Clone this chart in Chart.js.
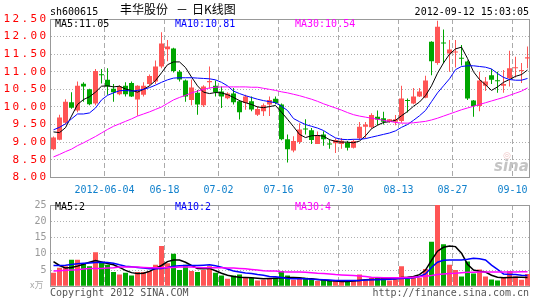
<!DOCTYPE html>
<html><head><meta charset="utf-8">
<script src="https://cdn.jsdelivr.net/npm/chart.js@4/dist/chart.umd.min.js"></script>
<style>
html,body{margin:0;padding:0;background:#fff;width:545px;height:300px;overflow:hidden}
#price{position:absolute;left:0;top:0;width:545px;height:200px}
#vol{position:absolute;left:0;top:195px;width:545px;height:105px}
</style></head><body>
<canvas id="price" width="545" height="200"></canvas>
<canvas id="vol" width="545" height="105"></canvas>
<script>
// ---- data ----
const opens  = [8.80,9.07,9.55,10.13,9.90,10.66,10.50,10.10,10.92,10.77, 10.52,10.36,10.60,10.68,10.21,10.35,10.65,10.72,11.15,11.64, 11.66,11.00,10.75,10.20,10.40,10.05,10.70,10.60,10.44,10.25, 10.38,10.16,10.11,10.16,9.78,9.88,10.07,10.23,10.07,9.08, 8.76,9.00,9.38,9.34,8.95,9.22,8.95,8.97,8.95,8.98, 8.84,9.11,9.44,9.42,9.72,9.68,9.58,9.58,9.60,10.20, 10.10,10.30,10.26,11.85,11.25,11.83,11.52,11.55,11.39,11.29, 10.18,10.03,10.60,10.90,10.76,10.60,10.82,11.10,11.02,11.38];
const highs  = [9.16,9.78,10.22,10.42,10.72,10.70,10.52,11.08,11.08,11.10, 10.65,10.62,10.70,10.72,10.62,10.70,10.92,11.32,12.12,11.90, 11.68,11.05,10.78,10.78,10.48,10.62,11.15,10.75,10.58,10.42, 10.54,10.20,10.35,10.30,10.02,10.10,10.30,10.30,10.10,9.22, 9.17,9.54,9.65,9.40,9.30,9.31,9.08,9.10,9.12,9.03, 9.08,9.57,9.57,9.82,9.90,9.86,9.66,9.77,10.60,10.24, 10.54,10.54,10.89,11.87,12.45,12.20,11.90,11.90,11.76,11.32, 10.20,11.00,10.85,11.08,11.00,11.05,11.60,11.43,11.25,11.72];
const lows   = [8.77,9.05,9.50,9.95,9.85,10.15,10.05,10.05,10.67,10.35, 10.15,10.33,10.30,10.28,9.75,10.30,10.60,10.65,11.10,11.30, 10.98,10.72,10.15,10.05,9.78,10.00,10.52,10.30,9.97,10.22, 10.07,9.64,9.92,9.88,9.74,9.74,9.74,10.08,9.05,8.42, 8.71,8.95,9.22,8.95,8.95,8.90,8.81,8.69,8.81,8.76, 8.82,9.06,9.10,9.38,9.48,9.50,9.55,9.48,9.55,9.84, 10.08,10.28,10.25,10.90,11.20,11.25,11.00,11.12,11.18,10.20, 9.72,9.88,10.45,10.65,10.40,10.40,10.58,10.84,10.68,11.10];
const closes = [9.13,9.70,10.15,9.98,10.60,10.58,10.08,11.02,10.90,10.58, 10.42,10.58,10.36,10.30,10.60,10.60,10.88,11.15,11.80,11.72, 11.02,10.78,10.30,10.55,10.07,10.58,10.74,10.42,10.30,10.38, 10.13,9.85,10.30,9.93,9.94,10.05,10.20,10.11,9.08,8.80, 9.03,9.36,9.36,9.06,9.20,9.08,8.93,9.06,9.04,8.84, 9.03,9.44,9.50,9.77,9.64,9.58,9.65,9.65,10.24,10.17, 10.30,10.44,10.75,11.30,12.28,11.80,11.63,11.57,11.37,10.24, 10.03,10.75,10.72,10.77,10.73,10.65,11.10,11.13,11.05,11.41];
const ma5  = [9.29,9.27,9.41,9.74,10.07,10.21,10.29,10.42,10.59,10.60, 10.57,10.59,10.51,10.47,10.42,10.50,10.60,10.75,10.97,11.20, 11.28,11.28,11.12,10.85,10.60,10.42,10.38,10.41,10.40,10.35, 10.27,10.18,10.12,10.07,10.00,9.98,10.01,10.04,9.85,9.65, 9.44,9.22,9.13,9.18,9.19,9.17,9.07,9.02,9.00,9.00, 8.98,9.03,9.18,9.38,9.48,9.56,9.58,9.62,9.75,9.87, 10.02,10.14,10.32,10.60,10.96,11.25,11.50,11.65,11.70,11.38, 11.00,10.78,10.63,10.47,10.57,10.70,10.78,10.87,10.92,11.05];
const ma10 = [9.35,9.42,9.52,9.66,9.80,9.80,9.83,9.97,10.20,10.33, 10.40,10.46,10.47,10.45,10.47,10.50,10.55,10.62,10.70,10.77, 10.82,10.83,10.83,10.83,10.82,10.81,10.80,10.77,10.70,10.60, 10.45,10.38,10.32,10.27,10.22,10.18,10.15,10.12,10.02,9.90, 9.67,9.58,9.50,9.45,9.40,9.33,9.22,9.12,9.08,9.07, 9.08,9.08,9.10,9.14,9.18,9.22,9.26,9.32,9.42,9.50, 9.62,9.75,9.90,10.15,10.40,10.60,10.80,11.06,11.15,11.17, 11.17,11.15,11.13,11.08,10.95,10.84,10.78,10.76,10.76,10.81];
const ma30 = [8.58,8.65,8.73,8.80,8.90,8.98,9.07,9.16,9.26,9.36, 9.45,9.52,9.59,9.66,9.74,9.80,9.86,9.93,10.00,10.10, 10.20,10.27,10.33,10.40,10.45,10.50,10.54,10.56,10.57,10.57, 10.57,10.57,10.57,10.56,10.56,10.53,10.50,10.47,10.43,10.40, 10.36,10.32,10.27,10.22,10.16,10.09,10.03,9.97,9.91,9.84, 9.78,9.74,9.71,9.68,9.65,9.62,9.59,9.56,9.54,9.54, 9.55,9.57,9.59,9.63,9.68,9.74,9.80,9.86,9.92,9.97, 10.02,10.07,10.12,10.17,10.22,10.27,10.33,10.39,10.45,10.54];
const volume = [4.2,5.7,6.2,8.2,8.2,7.1,6.2,10.5,7.4,6.6, 4.4,3.6,4.2,3.3,4.4,4.4,4.7,6.6,12.4,7.1, 10.0,5.0,6.6,4.7,4.4,5.0,6.2,4.2,3.3,2.3, 3.3,3.6,2.8,2.6,1.8,2.0,2.3,2.6,4.7,3.3, 2.0,2.6,2.6,2.3,1.6,2.0,1.6,1.6,1.6,1.6, 1.6,3.6,1.8,2.6,2.6,2.6,1.8,2.2,6.2,2.3, 2.6,2.6,5.3,13.7,25,12.9,6.6,5.0,3.0,7.6, 3.9,5.2,3.0,2.1,1.8,2.6,4.7,3.0,2.0,3.75];
const vma5 = [7.6,6.4,5.6,5.8,6.2,6.8,7.4,7.9,7.5,7.0, 6.6,5.8,4.9,4.2,3.9,4.0,4.6,5.5,6.4,7.6, 8.1,8.1,7.4,6.4,5.5,5.4,5.5,4.8,4.0,3.4, 3.0,2.8,2.7,2.6,2.5,2.3,2.4,2.5,2.6,2.7, 2.7,2.6,2.4,2.3,2.1,1.9,1.7,1.6,1.5,1.5, 1.6,1.8,2.0,2.1,2.2,2.3,2.3,2.3,2.7,2.8, 3.0,3.6,5.0,8.0,10.8,12.0,12.4,12.2,10.2,6.8, 5.0,4.6,4.4,3.4,2.8,2.6,2.7,2.8,2.8,2.7];
const vma10 = [6.4,6.4,6.5,6.7,6.9,7.1,7.2,7.3,7.4,7.3, 7.1,6.6,6.2,6.0,5.8,5.6,5.4,5.4,5.5,5.8, 6.2,6.3,6.4,6.4,6.4,6.5,6.6,6.3,5.9,5.3, 4.7,4.4,4.1,3.9,3.6,3.4,3.0,2.9,2.7,2.4, 2.3,2.3,2.3,2.2,2.1,2.0,1.9,1.8,1.8,1.8, 1.8,1.8,1.9,2.0,2.0,2.1,2.2,2.3,2.4,2.5, 2.6,3.0,3.8,5.8,7.4,8.0,8.1,8.1,8.1,8.3, 8.6,8.5,8.1,6.5,5.2,3.8,3.6,3.6,3.4,3.3];
const vma30 = [4.7,4.8,4.9,5.0,5.1,5.3,5.5,5.5,5.5,5.6, 5.7,5.9,5.9,5.9,5.9,5.8,5.7,5.7,5.7,5.8, 5.8,5.9,5.9,5.9,5.8,5.7,5.7,5.7,5.7,5.6, 5.6,5.5,5.4,5.2,5.0,4.8,4.7,4.7,4.5,4.4, 4.4,4.4,4.3,4.2,4.0,3.9,3.8,3.6,3.5,3.4, 3.3,3.2,3.0,2.8,2.7,2.6,2.6,2.6,2.6,2.7, 2.8,2.9,3.1,3.3,3.6,3.8,3.9,4.0,4.2,4.3, 4.3,4.4,4.4,4.4,4.4,4.4,4.4,4.4,4.5,4.5];
const dateTicks = {9:'2012-06-04', 19:'06-18', 28:'07-02', 38:'07-16', 48:'07-30', 58:'08-13', 67:'08-27', 77:'09-10'};
const priceTicks = {min: 8, max: 12.5, step: 0.5};
const volTicks = {min: 0, max: 25, step: 5};

// ---- styling ----
const UP = '#ff5555', DOWN = '#00a600';
const MONO = 'DejaVu Sans Mono';
const categories = closes.map((_, i) => String(i));
const dirColor = (i) => closes[i] >= opens[i] ? UP : DOWN;
Chart.defaults.font.family = MONO;
Chart.defaults.font.size = 10;

const frame = { id: 'frame', beforeDatasetsDraw(chart) {
  const a = chart.chartArea, c = chart.ctx;
  const l = Math.floor(a.left) + 0.5, t = Math.floor(a.top) + 0.5, r = Math.floor(a.right) - 0.5, b = Math.floor(a.bottom) + 0.5;
  c.save(); c.strokeStyle = '#999'; c.lineWidth = 1; c.setLineDash([]); c.strokeRect(l, t, r - l, b - t); c.restore();
}};
function texts(items) {
  return { id: 'texts', afterDraw(chart) {
    const c = chart.ctx; c.save();
    for (const t of items) {
      c.font = t.font; c.fillStyle = t.color; c.textAlign = t.align || 'left'; c.textBaseline = 'alphabetic';
      c.fillText(t.text, t.x, t.y);
    }
    c.restore();
  }};
}
const spacedY = { id: 'spacedY', afterLayout(chart) {
  const sc = chart.scales.y;
  if (sc && !sc._spaced) {
    const orig = Chart.Scale.prototype.drawLabels;
    sc.drawLabels = function (area) { const c = this.ctx; c.save(); c.letterSpacing = '2.4px'; orig.call(this, area); c.restore(); };
    sc._spaced = true;
  }
}};
const xGrid = (ctx) => dateTicks[ctx.index] ? '#aaa' : 'rgba(0,0,0,0)';
const lineDs = (data, color, w) => ({ type: 'line', data, borderColor: color, borderWidth: w, pointRadius: 0, tension: 0, order: 0 });

// ---- price chart ----
new Chart(document.getElementById('price'), {
  data: {
    labels: categories,
    datasets: [
      { type: 'bar', data: lows.map((l, i) => [l, highs[i]]), backgroundColor: (c) => dirColor(c.dataIndex), barThickness: 1, grouped: false, inflateAmount: 0, order: 3 },
      { type: 'bar', data: opens.map((o, i) => [o, closes[i]]), backgroundColor: (c) => dirColor(c.dataIndex), barThickness: 5, minBarLength: 1, grouped: false, inflateAmount: 0, order: 2 },
      lineDs(ma30, '#ff00ff', 1), lineDs(ma10, '#0000ff', 1), lineDs(ma5, '#000000', 1)
    ]
  },
  options: {
    responsive: false, animation: false, events: [],
    layout: { padding: { top: 19, right: 14.5, left: 0, bottom: 0 }, autoPadding: false },
    plugins: { legend: { display: false }, tooltip: { enabled: false } },
    scales: {
      x: { type: 'category', offset: true,
        grid: { offset: true, color: xGrid, drawTicks: false, lineWidth: 1 },
        border: { display: false, dash: [5, 3] },
        ticks: { autoSkip: false, maxRotation: 0, minRotation: 0, padding: 7, labelOffset: -3, color: '#1080cc', font: { family: MONO, size: 10 },
          callback: (v, i) => dateTicks[i] || '' },
        afterFit: (s) => { s.height = 22.7; } },
      y: { min: priceTicks.min, max: priceTicks.max,
        grid: { color: '#b0b0b0', drawTicks: false },
        border: { display: false, dash: [1, 2] },
        ticks: { stepSize: priceTicks.step, padding: 2, color: '#ff0000', font: { family: MONO, size: 11 }, callback: (v) => Number(v).toFixed(2) },
        afterFit: (s) => { s.width = 50.5; } }
    }
  },
  plugins: [frame, spacedY, texts([
    { text: 'sh600615', x: 50, y: 15, color: '#000', font: '10px ' + MONO },
    { text: '丰华股份', x: 120, y: 14, color: '#000', font: '12px "Noto Sans CJK SC"' },
    { text: '－', x: 176, y: 14, color: '#000', font: '12px "Noto Sans CJK SC"' },
    { text: '日K线图', x: 192, y: 14, color: '#000', font: '12px "Noto Sans CJK SC"' },
    { text: '2012-09-12 15:03:05', x: 529, y: 15, color: '#000', font: '10px ' + MONO, align: 'right' },
    { text: 'MA5:' + ma5[ma5.length - 1].toFixed(2), x: 55, y: 27, color: '#000', font: '10px ' + MONO },
    { text: 'MA10:' + ma10[ma10.length - 1].toFixed(2), x: 175, y: 27, color: '#0000ff', font: '10px ' + MONO },
    { text: 'MA30:' + ma30[ma30.length - 1].toFixed(2), x: 295, y: 27, color: '#ff00ff', font: '10px ' + MONO },
    { text: '◎', x: 503, y: 158, color: '#f0c8c8', font: '9px "DejaVu Sans"' },
    { text: 'sina', x: 494, y: 171, color: '#c4c4c4', font: 'italic bold 15px "DejaVu Sans"' }
  ])]
});

// ---- volume chart ----
new Chart(document.getElementById('vol'), {
  data: {
    labels: categories,
    datasets: [
      { type: 'bar', data: volume, backgroundColor: (c) => dirColor(c.dataIndex), barThickness: 5, grouped: false, inflateAmount: 0, order: 2 },
      lineDs(vma30, '#ff00ff', 1.5), lineDs(vma10, '#0000ff', 1.5), lineDs(vma5, '#000000', 1.5)
    ]
  },
  options: {
    responsive: false, animation: false, events: [],
    layout: { padding: { top: 6, right: 14.5, left: 0, bottom: 0 }, autoPadding: false },
    plugins: { legend: { display: false }, tooltip: { enabled: false } },
    scales: {
      x: { type: 'category', offset: true,
        grid: { offset: true, color: xGrid, drawTicks: false },
        border: { display: false, dash: [5, 3] },
        ticks: { display: false },
        afterFit: (s) => { s.height = 13.7; } },
      y: { min: volTicks.min, max: volTicks.max,
        grid: { color: '#b0b0b0', drawTicks: false },
        border: { display: false, dash: [1, 2] },
        ticks: { stepSize: volTicks.step, padding: 4, color: '#999', font: { family: MONO, size: 10 }, callback: (v) => v === 0 ? '' : String(v) },
        afterFit: (s) => { s.width = 50.5; } }
    }
  },
  plugins: [frame, texts([
    { text: 'MA5:2', x: 55, y: 15, color: '#000', font: '10px ' + MONO },
    { text: 'MA10:2', x: 175, y: 15, color: '#0000ff', font: '10px ' + MONO },
    { text: 'MA30:4', x: 295, y: 15, color: '#ff00ff', font: '10px ' + MONO },
    { text: 'x万', x: 30, y: 93, color: '#aaa', font: '9px "Noto Sans CJK SC"' },
    { text: 'Copyright 2012 SINA.COM', x: 50, y: 101, color: '#555', font: '10px ' + MONO },
    { text: 'http://finance.sina.com.cn', x: 529, y: 101, color: '#555', font: '10px ' + MONO, align: 'right' }
  ])]
});
</script>
</body></html>
